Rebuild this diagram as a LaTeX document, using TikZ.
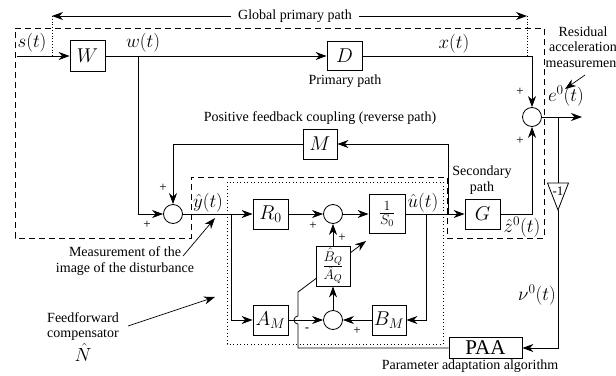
\RequirePackage{fix-cm}
\documentclass[tikz,border=0pt]{standalone}
\usepackage{fontspec}
\setmainfont{Liberation Serif}
\usetikzlibrary{arrows.meta}
\newcommand\labfs{\fontsize{19}{22}\selectfont}
\newcommand\boxfs{\fontsize{20}{23}\selectfont}
\newcommand\txtfs{\fontsize{14}{15.5}\selectfont}
\begin{document}
\begin{tikzpicture}[x=1pt,y=-1pt,line width=0.8pt,
  >={Stealth[length=11pt,width=8pt,inset=3.5pt]},
  blk/.style={draw,fill=white,inner sep=0pt,font=\boxfs},
  sumc/.style={draw,circle,minimum size=19pt,inner sep=0pt},
  lab/.style={inner sep=0pt,font=\labfs},
  txt/.style={inner sep=0pt,font=\txtfs,align=center},
  pm/.style={inner sep=0pt,font=\fontsize{13}{14}\selectfont},
  outerbox/.style={dash pattern=on 6pt off 4pt,line width=0.7pt},
  innerbox/.style={dash pattern=on 1pt off 2.5pt,line width=0.8pt}]
\useasboundingbox (0,0) rectangle (616,375);

% boundaries
\draw[outerbox] (15,28) -- (544,28) -- (544,238) -- (447,238) -- (447,177) -- (191,177) -- (191,238) -- (15,238) -- cycle;
\draw[innerbox] (227,182) rectangle (443,344);

% blocks
\node[blk,minimum width=35pt,minimum height=31pt] (W) at (87.5,56) {$W$};
\node[blk,minimum width=35pt,minimum height=29pt] (D) at (344.5,56) {$D$};
\node[blk,minimum width=34pt,minimum height=30pt] (M) at (320,144) {$M$};
\node[blk,minimum width=35pt,minimum height=30pt] (R0) at (270.5,214) {$R_0$};
\node[blk,minimum width=36pt,minimum height=39pt,font=\fontsize{20}{23}\selectfont] (S0) at (387,214) {$\frac{1}{S_0}$};
\node[blk,minimum width=35pt,minimum height=30pt] (G) at (482.5,214) {$G$};
\node[blk,minimum width=34pt,minimum height=40pt,font=\fontsize{20}{23}\selectfont] (BQ) at (333,266) {$\frac{\hat B_Q}{\hat A_Q}$};
\node[blk,minimum width=35pt,minimum height=30pt] (AM) at (270.5,320) {$A_M$};
\node[blk,minimum width=34pt,minimum height=30pt] (BM) at (389,320) {$B_M$};
\node[blk,minimum width=73pt,minimum height=21pt,font=\fontsize{21}{24}\selectfont] (PAA) at (485.5,348) {PAA};

% summing junctions
\node[sumc] (S1) at (173,214) {};
\node[sumc] (S2) at (333,214) {};
\node[sumc] (S3) at (333,320) {};
\node[sumc] (S4) at (532,117) {};

% gain -1
\coordinate (trtop) at (558,183);
\coordinate (trbot) at (558,210);
\draw (547.5,183) -- (568.5,183) -- (trbot) -- cycle;
\node[inner sep=0pt,font=\fontsize{13}{14}\selectfont] (neg) at (558,191) {-1};

% coordinates
\coordinate (sin) at (17,56);
\coordinate (bw) at (138,56);
\coordinate (by) at (231,214);
\coordinate (bu) at (426,214);
\coordinate (bm) at (448,214);
\coordinate (be) at (558,117);
\coordinate (eout) at (582,117);
\coordinate (pa) at (298,348);
\coordinate (jb) at (298,324);
\coordinate (dg) at (298,292);
\coordinate (dg1) at (316,278.5);
\coordinate (dg2) at (350,253);
\coordinate (dg3) at (366,241);

% connectors
\draw[->] (sin) -- (W.west);
\draw[->] (W.east) -- (D.west);
\draw[->] (bw) |- (S1.west);
\draw[->] (D.east) -| (S4.north);
\draw[->] (G.east) -| (S4.south);
\draw[->] (S4.east) -- (eout);
\draw (be) -- (trtop);
\draw[->] (trbot) |- (PAA.east);
\draw (PAA.west) -- (pa) -- (jb) arc[start angle=270,end angle=90,radius=4pt] -- (dg) -- (dg1);
\draw[->] (dg2) -- (dg3);
\draw[->] (bm) |- (M.east);
\draw[->] (M.west) -| (S1.north);
\draw[->] (S1.east) -- (R0.west);
\draw[->] (by) |- (AM.west);
\draw[->] (R0.east) -- (S2.west);
\draw[->] (S2.east) -- (S0.west);
\draw[->] (S0.east) -- (G.west);
\draw[->] (bu) |- (BM.east);
\draw[->] (BM.west) -- (S3.east);
\draw[->] (AM.east) -- (S3.west);
\draw[->] (S3.north) -- (BQ.south);
\draw[->] (BQ.north) -- (S2.south);

% signal labels
\node[lab] (ls) at (32,43) {$s(t)$};
\node[lab] (lw) at (143,43) {$w(t)$};
\node[lab] (lx) at (454,44) {$x(t)$};
\node[lab] (le) at (566,96) {$e^0(t)$};
\node[lab] (lz) at (522,227) {$\hat z^0(t)$};
\node[lab] (ly) at (208,203) {$\hat y(t)$};
\node[lab] (lu) at (423,203) {$\hat u(t)$};
\node[lab] (lnu) at (537,295) {$\nu^0(t)$};

% signs
\node[pm] at (163,188) {+};
\node[pm] at (147,225) {+};
\node[pm] at (313,226) {+};
\node[pm] at (342,238) {+};
\node[pm] at (307,330) {-};
\node[pm] at (357,331) {+};
\node[pm] at (520,92) {+};
\node[pm] at (520,141) {+};

% global primary path
\coordinate (gl) at (52,16);
\coordinate (gr) at (527,16);
\draw[<->] (gl) -- (gr);
\node[txt,fill=white,inner xsep=7pt,inner ysep=2pt] (gpp) at (295,16) {Global primary path};
\draw[dotted] (gl) -- (52,56);
\draw[dotted] (gr) -- (527,56);

% texts
\node[txt] (tpp) at (345,81) {Primary path};
\node[txt] (tpf) at (320,118) {Positive feedback coupling (reverse path)};
\node[txt] (tsp) at (482,180) {Secondary\\path};
\node[txt] (tres) at (583,47) {Residual\\acceleration\\measurement};
\coordinate (ra1) at (585,75);
\coordinate (ra2) at (565,89);
\draw[->,line width=0.7pt] (ra1) -- (ra2);
\node[txt] (tmeas) at (125,261) {Measurement of the\\image of the disturbance};
\coordinate (ma1) at (183,256);
\coordinate (ma2) at (215,218);
\draw[->,line width=0.7pt] (ma1) -- (ma2);
\node[txt] (tff) at (83,337) {Feedforward\\compensator\\[2pt]{\labfs$\hat N$}};
\coordinate (fa1) at (128,326);
\coordinate (fa2) at (215,297);
\draw[->,line width=0.7pt] (fa1) -- (fa2);
\node[txt] (tpaa) at (470,366) {Parameter adaptation algorithm};
\end{tikzpicture}
\end{document}
